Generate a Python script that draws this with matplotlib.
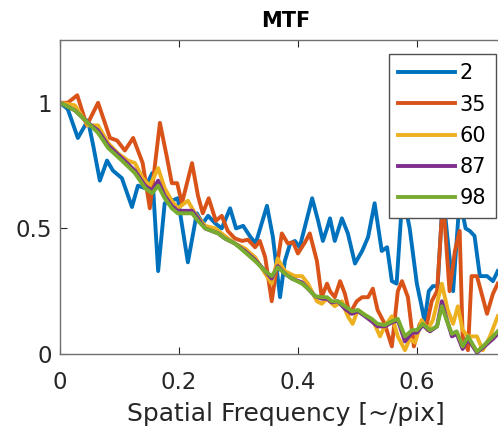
import matplotlib
matplotlib.use('Agg')
import matplotlib.pyplot as plt

# MTF curves for five slices, spatial frequency in cycles/pixel
labels = ['2', '35', '60', '87', '98']
colors = ['#0072BD', '#D95319', '#EDB120', '#7E2F8E', '#77AC30']

freq_2 = [0.000, 0.013, 0.030, 0.047, 0.055, 0.067, 0.079, 0.089, 0.104, 0.121,
          0.131, 0.143, 0.155, 0.165, 0.176, 0.188, 0.198, 0.215, 0.230, 0.240,
          0.249, 0.261, 0.272, 0.286, 0.296, 0.308, 0.319, 0.329, 0.348, 0.358,
          0.370, 0.378, 0.387, 0.395, 0.403, 0.424, 0.434, 0.442, 0.449, 0.454,
          0.462, 0.474, 0.484, 0.496, 0.508, 0.518, 0.529, 0.541, 0.550, 0.558,
          0.566, 0.576, 0.588, 0.600, 0.608, 0.613, 0.620, 0.627, 0.635, 0.644,
          0.652, 0.661, 0.672, 0.682, 0.689, 0.697, 0.706, 0.718, 0.728, 0.736]
mtf_2 = [1.00, 0.975, 0.86, 0.93, 0.84, 0.69, 0.77, 0.73, 0.70, 0.585,
         0.67, 0.66, 0.72, 0.33, 0.60, 0.61, 0.62, 0.365, 0.56, 0.52,
         0.55, 0.52, 0.50, 0.58, 0.50, 0.51, 0.47, 0.44, 0.59, 0.465,
         0.226, 0.37, 0.44, 0.45, 0.425, 0.62, 0.53, 0.45, 0.50, 0.54,
         0.45, 0.54, 0.48, 0.36, 0.41, 0.465, 0.60, 0.41, 0.425, 0.29,
         0.28, 0.64, 0.50, 0.28, 0.19, 0.13, 0.25, 0.27, 0.27, 0.64,
         0.45, 0.25, 0.62, 0.50, 0.49, 0.47, 0.31, 0.31, 0.29, 0.33]

freq_35 = [0.000, 0.013, 0.029, 0.045, 0.064, 0.084, 0.096, 0.109, 0.123, 0.139,
           0.151, 0.168, 0.180, 0.188, 0.197, 0.205, 0.222, 0.232, 0.240, 0.250,
           0.262, 0.272, 0.282, 0.294, 0.306, 0.316, 0.328, 0.336, 0.345, 0.356,
           0.366, 0.373, 0.383, 0.392, 0.400, 0.412, 0.420, 0.432, 0.440, 0.449,
           0.454, 0.462, 0.471, 0.479, 0.487, 0.499, 0.508, 0.518, 0.526, 0.534,
           0.546, 0.558, 0.568, 0.575, 0.585, 0.595, 0.605, 0.617, 0.625, 0.634,
           0.644, 0.655, 0.664, 0.672, 0.677, 0.686, 0.692, 0.701, 0.709, 0.718,
           0.728, 0.736]
mtf_35 = [1.00, 1.00, 1.03, 0.91, 1.00, 0.86, 0.85, 0.81, 0.86, 0.76,
          0.58, 0.92, 0.78, 0.68, 0.68, 0.60, 0.76, 0.63, 0.56, 0.62,
          0.53, 0.55, 0.49, 0.46, 0.45, 0.455, 0.425, 0.45, 0.385, 0.21,
          0.37, 0.48, 0.44, 0.445, 0.40, 0.445, 0.48, 0.37, 0.226, 0.28,
          0.25, 0.226, 0.29, 0.24, 0.16, 0.21, 0.226, 0.226, 0.26, 0.175,
          0.12, 0.03, 0.25, 0.29, 0.226, 0.03, 0.12, 0.12, 0.21, 0.25,
          0.62, 0.25, 0.41, 0.49, 0.07, 0.015, 0.31, 0.31, 0.24, 0.16,
          0.24, 0.28]

freq_60 = [0.000, 0.025, 0.047, 0.064, 0.081, 0.097, 0.114, 0.126, 0.139, 0.151,
           0.165, 0.176, 0.188, 0.198, 0.215, 0.227, 0.244, 0.261, 0.277, 0.294,
           0.311, 0.328, 0.345, 0.356, 0.366, 0.378, 0.395, 0.407, 0.417, 0.432,
           0.440, 0.449, 0.462, 0.474, 0.484, 0.492, 0.501, 0.516, 0.526, 0.538,
           0.546, 0.558, 0.568, 0.580, 0.588, 0.597, 0.608, 0.618, 0.627, 0.642,
           0.652, 0.661, 0.669, 0.677, 0.686, 0.701, 0.711, 0.723, 0.736]
mtf_60 = [1.00, 0.99, 0.91, 0.91, 0.84, 0.80, 0.77, 0.76, 0.70, 0.67,
          0.74, 0.66, 0.61, 0.58, 0.61, 0.56, 0.51, 0.50, 0.47, 0.44,
          0.42, 0.385, 0.32, 0.28, 0.38, 0.33, 0.31, 0.31, 0.28, 0.21,
          0.20, 0.22, 0.19, 0.21, 0.15, 0.12, 0.175, 0.15, 0.135, 0.07,
          0.11, 0.15, 0.07, 0.015, 0.06, 0.045, 0.135, 0.095, 0.135, 0.28,
          0.175, 0.12, 0.19, 0.095, 0.07, 0.07, 0.015, 0.07, 0.15]

# slices 87 and 98 share the same sampling
freq_hi = [0.000, 0.025, 0.047, 0.064, 0.081, 0.104, 0.126, 0.143, 0.155, 0.165,
           0.176, 0.188, 0.198, 0.210, 0.222, 0.232, 0.244, 0.255, 0.266, 0.277,
           0.294, 0.311, 0.328, 0.345, 0.356, 0.366, 0.378, 0.390, 0.407, 0.417,
           0.429, 0.440, 0.449, 0.457, 0.467, 0.479, 0.491, 0.501, 0.513, 0.524,
           0.534, 0.546, 0.558, 0.568, 0.580, 0.592, 0.600, 0.610, 0.622, 0.634,
           0.642, 0.650, 0.659, 0.667, 0.677, 0.686, 0.701, 0.711, 0.728, 0.736]
mtf_87 = [1.00, 0.97, 0.92, 0.89, 0.83, 0.78, 0.73, 0.67, 0.65, 0.69,
          0.63, 0.59, 0.57, 0.57, 0.57, 0.54, 0.50, 0.49, 0.48, 0.46,
          0.44, 0.41, 0.375, 0.33, 0.30, 0.35, 0.32, 0.30, 0.285, 0.26,
          0.23, 0.22, 0.22, 0.205, 0.21, 0.18, 0.16, 0.17, 0.15, 0.13,
          0.11, 0.11, 0.125, 0.135, 0.05, 0.085, 0.085, 0.115, 0.09, 0.11,
          0.21, 0.14, 0.07, 0.08, 0.02, 0.06, 0.005, 0.025, 0.06, 0.08]
mtf_98 = [1.00, 0.97, 0.92, 0.88, 0.82, 0.77, 0.72, 0.66, 0.64, 0.67,
          0.62, 0.58, 0.56, 0.56, 0.56, 0.53, 0.50, 0.49, 0.48, 0.46,
          0.44, 0.405, 0.37, 0.33, 0.31, 0.345, 0.32, 0.30, 0.28, 0.26,
          0.23, 0.226, 0.226, 0.21, 0.21, 0.19, 0.17, 0.175, 0.155, 0.14,
          0.12, 0.115, 0.13, 0.14, 0.07, 0.095, 0.095, 0.12, 0.095, 0.11,
          0.19, 0.135, 0.08, 0.09, 0.03, 0.07, 0.01, 0.03, 0.07, 0.09]

xs = [freq_2, freq_35, freq_60, freq_hi, freq_hi]
ys = [mtf_2, mtf_35, mtf_60, mtf_87, mtf_98]

plt.rcParams['font.family'] = ['DejaVu Sans']
fig = plt.figure(figsize=(4.98, 4.40), dpi=100)
ax = fig.add_axes([0.1205, 0.1955, 0.9076, 0.7136])

for x, y, c, lab in zip(xs, ys, colors, labels):
    ax.plot(x, y, color=c, lw=2.8, label=lab, solid_joinstyle='round')

ax.set_xlim(0, 0.76)
ax.set_ylim(0, 1.25)
ax.set_xticks([0, 0.2, 0.4, 0.6])
ax.set_xticklabels(['0', '0.2', '0.4', '0.6'])
ax.set_yticks([0, 0.5, 1])
ax.set_yticklabels(['0', '0.5', '1'])
ax.tick_params(direction='in', length=5, width=0.8, color='#262626',
               labelcolor='#262626', labelsize=16.5, top=True)
ax.tick_params(axis='x', pad=12)
ax.tick_params(axis='y', pad=6)
for s in ax.spines.values():
    s.set_color('#707070')
    s.set_linewidth(1.0)

ax.set_title('MTF', fontsize=15, fontweight='bold', color='black', pad=9)
ax.set_xlabel('Spatial Frequency [~/pix]', fontsize=18, color='#262626', labelpad=6)

leg = ax.legend(loc='upper left', bbox_to_anchor=(389 / 498, 1 - 54 / 440),
                bbox_transform=fig.transFigure, fontsize=15, frameon=True,
                fancybox=False, framealpha=1, edgecolor='#505050',
                handlelength=2.7, handletextpad=0.25, labelspacing=0.54,
                borderpad=0.45, borderaxespad=0)
leg.get_frame().set_linewidth(1.0)

fig.savefig('out.png', dpi=100)
